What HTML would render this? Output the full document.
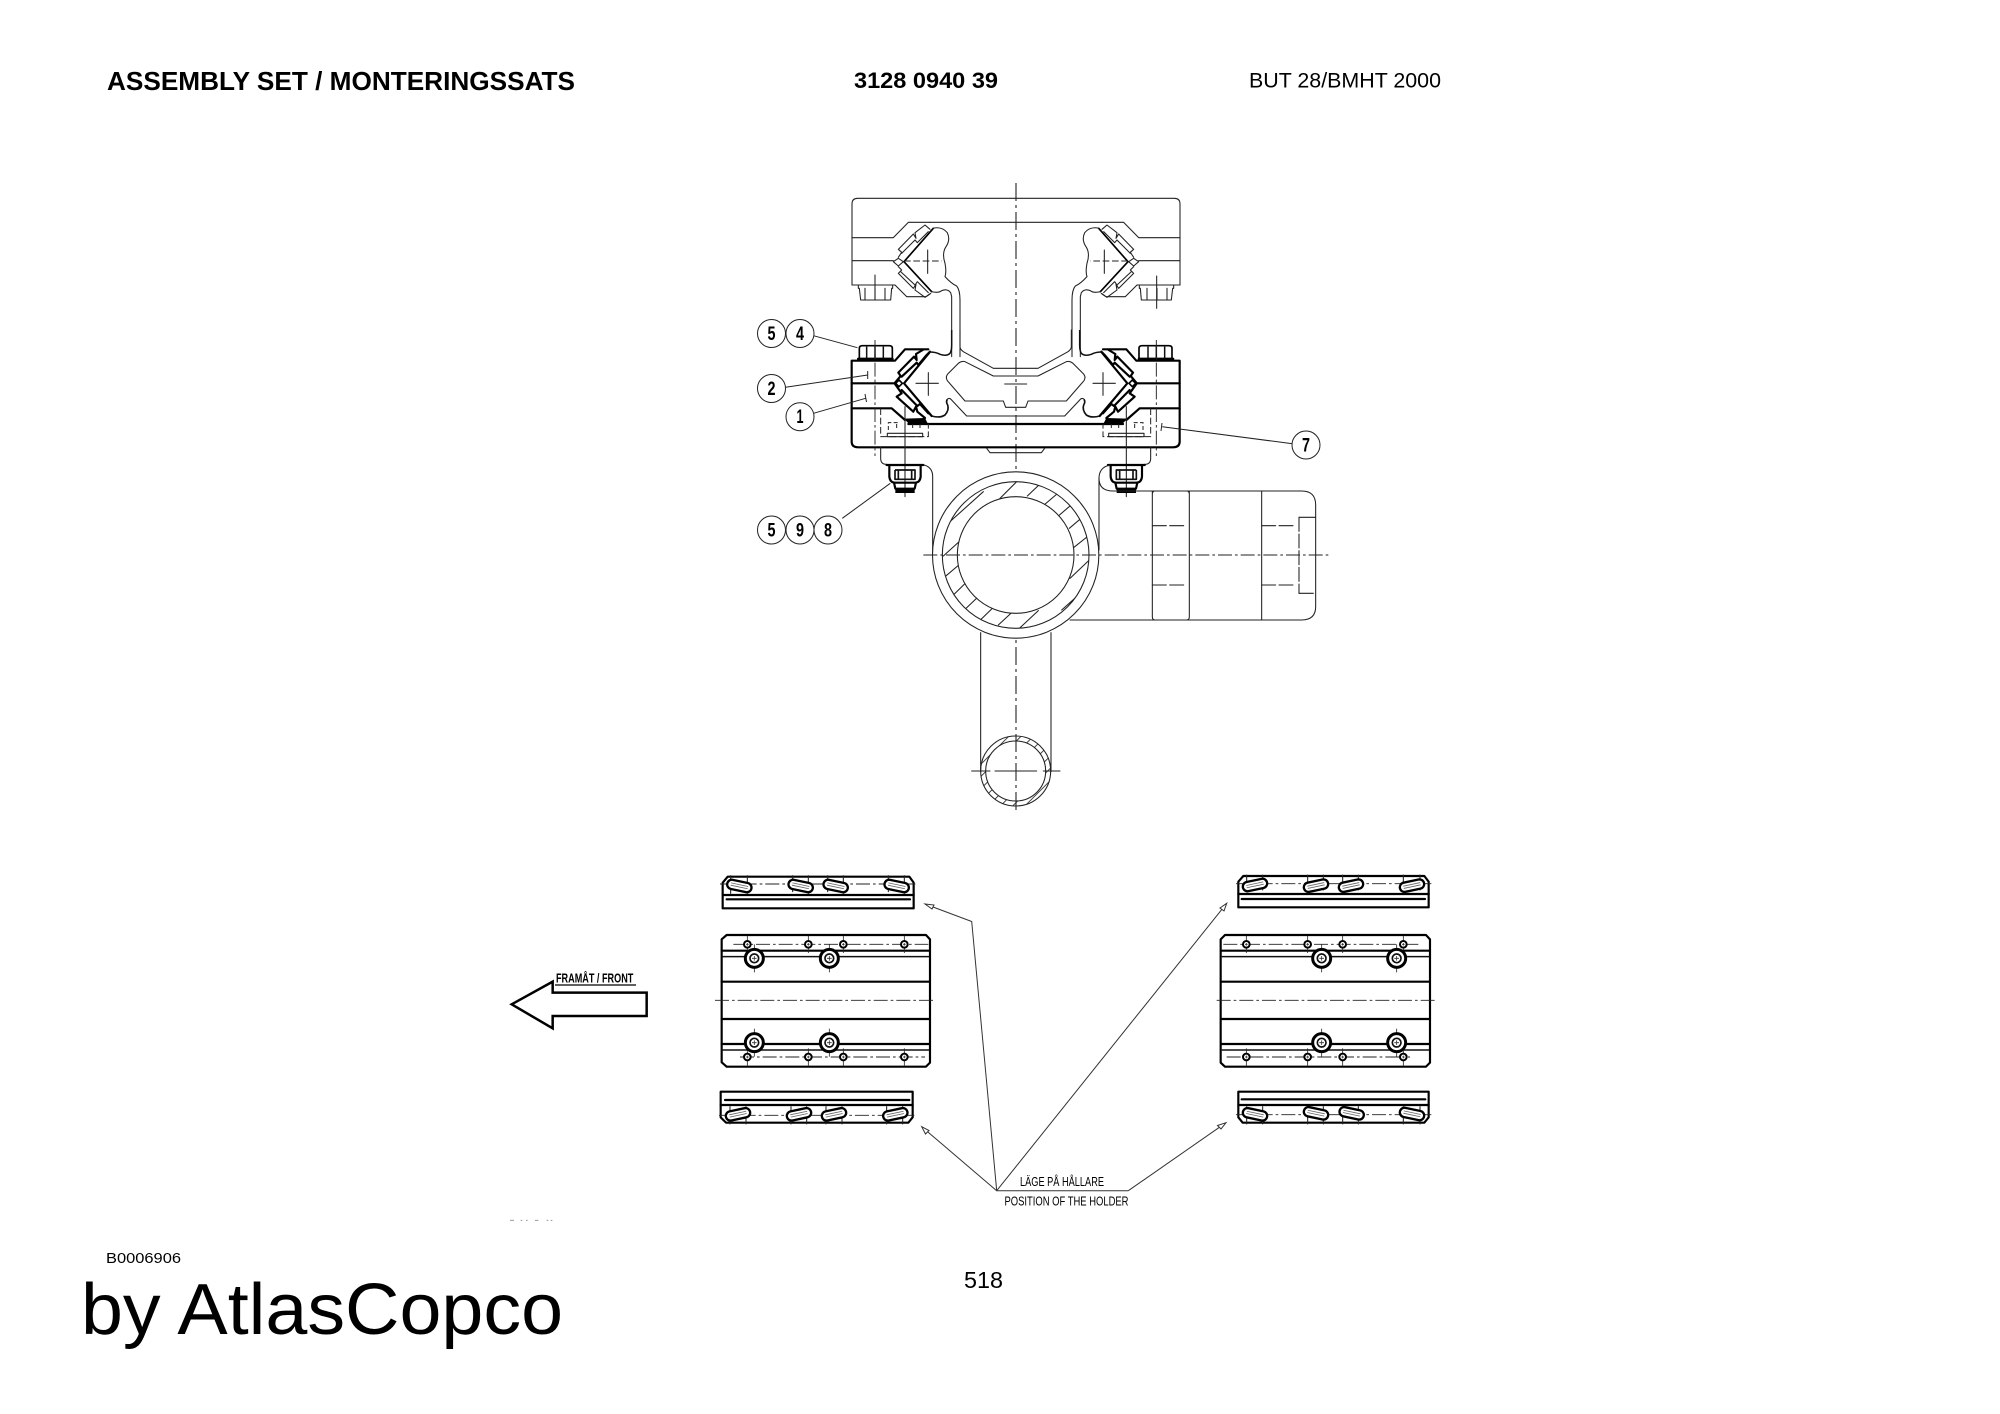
<!DOCTYPE html>
<html><head><meta charset="utf-8"><title>Assembly set</title>
<style>
html,body{margin:0;padding:0;background:#fff}
svg{display:block}
text{font-family:"Liberation Sans",sans-serif;fill:#000}
.t{fill:none;stroke:#222;stroke-width:3.2;stroke-linecap:round;stroke-linejoin:round}
.k{fill:none;stroke:#000;stroke-width:6.5;stroke-linejoin:round;stroke-linecap:round}
.m{fill:none;stroke:#111;stroke-width:4.5;stroke-linejoin:round}
.c{fill:none;stroke:#222;stroke-width:2.8;stroke-dasharray:42 9 8 9}
.d{fill:none;stroke:#222;stroke-width:3;stroke-dasharray:20 8}
</style></head><body>
<svg xmlns="http://www.w3.org/2000/svg" width="2000" height="1414" viewBox="0 0 2000 1414">
<defs>
<pattern id="hs" width="26" height="26" patternUnits="userSpaceOnUse" patternTransform="rotate(-45)"><line x1="0" y1="0" x2="26" y2="0" stroke="#222" stroke-width="5"/></pattern>
<mask id="ring" maskUnits="userSpaceOnUse" x="0" y="0" width="1440" height="1140"><rect width="1440" height="1140" fill="#000"/><circle cx="407" cy="285" r="220" fill="#fff"/><circle cx="407" cy="285" r="175" fill="#000"/></mask>
<g id="uh">
<path class="t" d="M36,143 L160,143 L205,97 L270,97"/>
<path class="t" d="M36,212 L160,212"/>
<path class="t" d="M36,285 L165,285 L200,320 L258,320 L272,310"/>
<path class="k" style="stroke-width:5" d="M280,115 L192,215 L275,305"/>
<path class="t" d="M160,215 L175,205 L190,215 L175,228 Z"/>
<path class="t" d="M175,202 L185,187 L175,178 L220,132 L228,145 L225,128 L255,105 L270,118"/>
<path class="t" d="M185,190 L225,150 L232,158 L265,125"/>
<path class="t" d="M175,230 L185,240 L175,250 L220,295 L228,283 L225,300 L255,322 L270,312"/>
<path class="t" d="M182,245 L225,285 L232,275 L265,308"/>
<path class="t" d="M278,115 Q305,108 322,128 Q332,150 318,170 Q305,190 315,220 Q320,245 315,260 Q335,282 350,288 Q360,300 360,330 L360,500"/>
<path class="t" d="M275,305 Q295,310 305,302 Q322,295 332,308 L335,320 L335,500"/>
<path class="d" d="M192,213 L305,213"/>
<path class="t" d="M263,180 L263,250"/>
<path class="t" d="M55,285 L158,285 L158,295 L155,295 L152,330 L62,330 L58,295 L55,295 Z"/>
<path class="t" d="M75,295 L75,330 M135,295 L135,330 M105,295 L105,330"/>
</g>
<g id="mh">
<path class="k" d="M557,352 L85,352 Q65,352 65,335 L65,92 L195,92 L225,58 L295,58"/>
<path class="k" d="M65,160 L195,160"/>
<path class="k" d="M65,235 L185,235 L225,270"/>
<path class="k" d="M235,282 L557,282"/>
<path class="k" style="stroke-width:8" d="M85,87 L187,87"/>
<path class="k" style="stroke-width:5" d="M88,85 L88,55 Q88,47 97,47 L178,47 Q187,47 187,55 L187,85"/>
<path class="m" d="M110,50 L110,85 M160,50 L160,85 M135,50 L135,85"/>
<path class="k" d="M298,68 L222,160 L305,258"/>
<path class="k" d="M195,158 L212,138 L205,128 L252,80 L260,90 L258,72 L278,60"/>
<path class="k" d="M215,140 L260,98 L265,105 L290,75 L300,65"/>
<path class="k" d="M195,162 L215,190 L200,200 L250,245 L258,230 L262,245 L285,264"/>
<path class="k" d="M215,180 L262,228 L270,222 L295,250"/>
<path class="k" style="stroke-width:5" d="M197,160 L207,150 L217,160 L207,170 Z"/>
<path d="M222,266 L285,264 L295,284 L240,285 Z" fill="#000"/>
<path class="m" d="M298,66 Q318,66 330,73 Q350,80 360,70 Q365,62 365,45 L365,0"/>
<path class="t" d="M390,0 L390,50 Q390,58 400,65 L490,115 L557,115"/>
<path class="t" d="M557,138 L490,138 L405,95 Q395,92 385,100 L355,130 Q345,140 352,152 L405,213 L520,213 L527,232 L557,232"/>
<path class="t" d="M557,258 L410,258 L362,207 Q356,203 352,208"/>
<path class="m" style="stroke-width:5" d="M352,208 Q347,215 353,225 Q358,240 345,255 Q330,265 305,258"/>
<path class="t" d="M258,160 L325,160 M295,128 L295,196 M533,162 L590,162"/>
<path class="d" d="M152,235 L152,320 L295,320 L295,282"/>
<path class="d" style="stroke-dasharray:12 7" d="M175,300 L175,278 L205,278 M270,282 L270,300 M200,282 L200,300 M248,282 L248,300"/>
<path class="t" d="M172,310 L278,310 L278,320 L172,320 Z"/>
<path class="t" d="M225,230 L225,500"/>
<path class="c" d="M135,30 L135,378"/>
<path class="t" d="M152,352 L152,385 Q152,403 170,403"/>
<path class="t" d="M470,355 L480,368 L557,368"/>
<path class="k" style="stroke-width:7" d="M170,405 L280,405"/>
<path class="k" d="M178,408 L178,440 Q180,458 195,458 L255,458 Q270,458 272,440 L272,408"/>
<path class="m" style="stroke-width:5" d="M195,420 L195,448 L255,448 L255,420 L195,420 M205,422 L205,446 M245,422 L245,446"/>
<path class="k" d="M192,458 L196,476 L254,476 L258,458"/>
<rect x="196" y="474" width="58" height="15" fill="#000"/>
</g>
<g id="sl">
<rect x="-37" y="-14" width="74" height="28" rx="14" fill="#fff" stroke="#000" stroke-width="7"/>
<path d="M-26,-4 L26,-4 M-26,3 L26,3" stroke="#666" stroke-width="2.5" fill="none"/>
</g>
<g id="lh">
<path d="M0,-42 L0,42" stroke="#222" stroke-width="2.4"/>
<circle r="27" fill="#fff" stroke="#000" stroke-width="9"/>
<circle r="13" fill="#fff" stroke="#111" stroke-width="5"/>
<path d="M-7,0 L7,0 M0,-7 L0,7" stroke="#333" stroke-width="2.4"/>
</g>
<g id="sh">
<path d="M0,-26 L0,26" stroke="#222" stroke-width="2.4"/>
<circle r="10" fill="#fff" stroke="#000" stroke-width="6"/>
<path d="M-4,0 L4,0 M0,-4 L0,4" stroke="#333" stroke-width="2.4"/>
</g>
</defs>

<!-- headers -->
<text x="107" y="90" font-size="25.6" font-weight="700" textLength="468" lengthAdjust="spacingAndGlyphs">ASSEMBLY SET / MONTERINGSSATS</text>
<text x="854" y="88" font-size="22.5" font-weight="700" textLength="144" lengthAdjust="spacingAndGlyphs">3128 0940 39</text>
<text x="1249" y="87.5" font-size="21.5" textLength="192" lengthAdjust="spacingAndGlyphs">BUT 28/BMHT 2000</text>
<text x="106" y="1263" font-size="14.5" textLength="75" lengthAdjust="spacingAndGlyphs">B0006906</text>
<text x="81" y="1334" font-size="72" textLength="482" lengthAdjust="spacingAndGlyphs">by AtlasCopco</text>
<text x="964" y="1288" font-size="23" textLength="39" lengthAdjust="spacingAndGlyphs">518</text>

<!-- centre line -->
<path class="c" style="stroke-width:1.1;stroke-dasharray:18 4 3 4" d="M1016,183 L1016,813" />

<!-- upper clamp -->
<g transform="translate(840 190) scale(.33333)">
<path class="t" d="M36,143 L36,42 Q36,25 53,25 L1003,25 Q1020,25 1020,42 L1020,285"/>
<path class="t" d="M36,143 L36,285"/>
<path class="t" d="M270,97 L786,97"/>
<use href="#uh"/>
<use href="#uh" transform="translate(1056 0) scale(-1 1)"/>
<path class="t" d="M105,255 L105,330 M950,258 L950,355"/>
</g>

<!-- middle clamp -->
<g transform="translate(830 330) scale(.33333)">
<use href="#mh"/>
<use href="#mh" transform="translate(1114 0) scale(-1 1)"/>
</g>

<!-- tube section -->
<g transform="translate(880 460) scale(.33333)">
<path class="t" d="M132,15 Q158,22 158,50 L158,285"/>
<path class="t" d="M690,15 Q657,22 657,55 Q657,93 700,93 L1265,93 Q1307,93 1307,135 L1307,440 Q1307,480 1265,480 L570,480"/>
<path class="t" d="M657,55 L657,270"/>
<circle cx="407" cy="285" r="249.5" class="t" style="fill:#fff"/>
<circle cx="407" cy="285" r="220" class="t"/>
<circle cx="407" cy="285" r="175" class="t"/>
<g mask="url(#ring)"><path class="t" d="M360,115 L410,65 M442,108 L480,72 M492,135 L545,90 M535,168 L585,125 M568,205 L615,165 M582,262 L632,222 M190,288 L245,238 M195,350 L240,312 M220,405 L258,368 M258,445 L295,410 M303,478 L340,442 M355,495 L395,458 M418,505 L475,452 M570,355 L630,298 M545,450 L590,410 M210,185 L310,95"/></g>
<path class="t" d="M817,93 L817,470 Q817,480 825,480 M817,103 Q817,93 825,93 M928,93 L928,470 Q928,480 920,480 M928,103 Q928,93 920,93 M1145,93 L1145,480"/>
<path class="t" style="stroke-dasharray:42 10" d="M817,197 L915,197 M817,375 L915,375 M1145,197 L1240,197 M1145,375 L1240,375"/>
<path class="t" d="M1307,172 L1257,172 M1300,400 L1257,400"/>
<path class="t" style="stroke-dasharray:42 8" d="M1257,172 L1257,400"/>
<path class="c" d="M130,285 L1350,285"/>
<path class="t" d="M302,518 L302,935 M513,518 L513,935"/>
<circle cx="407" cy="933" r="105" class="t"/>
<path d="M302,933 a105,105 0 1 0 210,0 a105,105 0 1 0 -210,0 Z M317,933 a90,90 0 1 0 180,0 a90,90 0 1 0 -180,0 Z" fill="url(#hs)" fill-rule="evenodd"/>
<circle cx="407" cy="933" r="90" class="t"/>
<path class="t" d="M275,933 L330,933 M345,933 L470,933 M490,933 L540,933"/>
</g>

<!-- balloons -->
<g stroke="#222" stroke-width="1" fill="none">
<path d="M813.5,335.7 L857.4,347.7 M785.6,387.3 L867.7,375 M867.7,371 L867.7,379 M813.5,413.3 L865.6,398.3 M865,394 L866.5,402 M1294.4,444 L1162.3,426.7 M1162,423 L1161,431 M842.3,518.3 L890.3,483.3"/>
</g>
<g fill="#fff" stroke="#222" stroke-width="1">
<circle cx="771.5" cy="333.5" r="14"/><circle cx="800" cy="333.5" r="14"/>
<circle cx="771.5" cy="388.5" r="14"/><circle cx="800" cy="416.7" r="14"/>
<circle cx="1306" cy="445" r="14"/>
<circle cx="771.5" cy="530" r="14"/><circle cx="800" cy="530" r="14"/><circle cx="828" cy="530" r="14"/>
</g>
<g font-size="19" font-weight="700" text-anchor="middle">
<text x="771.5" y="340" textLength="8" lengthAdjust="spacingAndGlyphs">5</text>
<text x="800" y="340" textLength="8" lengthAdjust="spacingAndGlyphs">4</text>
<text x="771.5" y="395" textLength="8" lengthAdjust="spacingAndGlyphs">2</text>
<text x="800" y="423" textLength="7" lengthAdjust="spacingAndGlyphs">1</text>
<text x="1306" y="451.5" textLength="8" lengthAdjust="spacingAndGlyphs">7</text>
<text x="771.5" y="536.5" textLength="8" lengthAdjust="spacingAndGlyphs">5</text>
<text x="800" y="536.5" textLength="8" lengthAdjust="spacingAndGlyphs">9</text>
<text x="828" y="536.5" textLength="8" lengthAdjust="spacingAndGlyphs">8</text>
</g>

<!-- left plates -->
<g transform="translate(500 860) scale(.33333)">
<path class="k" style="stroke-width:7.5;stroke-linejoin:miter" d="M35,433 L158,365 L158,398 L440,398 L440,468 L158,468 L158,505 Z"/>
<path d="M165,375 L408,375" stroke="#000" stroke-width="4"/>
<text x="168" y="368" font-size="38" font-weight="700" textLength="232" lengthAdjust="spacingAndGlyphs">FRAMÅT / FRONT</text>
<path class="k" d="M668,145 L668,68 L683,50 L1228,50 L1241,68 L1241,145 Z"/>
<path class="k" d="M668,105 L1241,105 M680,118 L1230,118"/>
<path class="c" d="M660,72 L1250,72"/>
<path class="t" d="M692,47 L692,100 M742,47 L742,100 M878,47 L878,95 M925,47 L925,100 M983,47 L983,95 M1030,47 L1030,100 M1165,47 L1165,95 M1213,47 L1213,100"/>
<use href="#sl" transform="translate(718 78) rotate(12)"/><use href="#sl" transform="translate(902 78) rotate(12)"/><use href="#sl" transform="translate(1007 78) rotate(12)"/><use href="#sl" transform="translate(1190 78) rotate(12)"/>

<path class="k" d="M680,225 L1278,225 L1290,238 L1290,608 L1278,620 L680,620 L665,607 L665,238 Z"/>
<path class="k" d="M665,272 L1288,272 M665,365 L1288,365 M665,477 L1288,477 M665,552 L1288,552"/>
<path class="m" d="M665,290 L1288,290 M665,570 L1288,570"/>
<path class="c" d="M645,421 L1305,421"/>
<path class="c" d="M700,253 L1285,253 M720,591 L1275,591"/>
<use href="#sh" transform="translate(742 253)"/><use href="#sh" transform="translate(925 253)"/><use href="#sh" transform="translate(1030 253)"/><use href="#sh" transform="translate(1213 253)"/>
<use href="#sh" transform="translate(742 591)"/><use href="#sh" transform="translate(925 591)"/><use href="#sh" transform="translate(1030 591)"/><use href="#sh" transform="translate(1213 591)"/>
<use href="#lh" transform="translate(763 295)"/><use href="#lh" transform="translate(988 295)"/><use href="#lh" transform="translate(763 548)"/><use href="#lh" transform="translate(988 548)"/>

<path class="k" d="M662,695 L1238,695 L1238,772 L1225,788 L678,788 L662,772 Z"/>
<path class="k" d="M675,720 L1228,720 M662,735 L1238,735"/>
<path class="c" d="M657,766 L1245,766"/>
<path class="t" d="M690,740 L690,792 M738,740 L738,792 M873,740 L873,792 M920,740 L920,792 M978,740 L978,792 M1026,740 L1026,792 M1160,740 L1160,792 M1208,740 L1208,792"/>
<use href="#sl" transform="translate(714 763) rotate(-12)"/><use href="#sl" transform="translate(897 763) rotate(-12)"/><use href="#sl" transform="translate(1002 763) rotate(-12)"/><use href="#sl" transform="translate(1186 763) rotate(-12)"/>
<path d="M30,1081 h12 M62,1081 h5 M78,1081 h5 M105,1081 h10 M140,1081 h5 M152,1081 h5" stroke="#999" stroke-width="3"/>
</g>

<!-- right plates -->
<g transform="translate(960 860) scale(.33333)">
<path class="k" d="M835,142 L835,65 L850,48 L1393,48 L1406,65 L1406,142 Z"/>
<path class="k" d="M835,102 L1406,102 M845,117 L1395,117"/>
<path class="c" d="M828,71 L1415,71"/>
<path class="t" d="M860,45 L860,95 M908,45 L908,90 M1043,45 L1043,95 M1090,45 L1090,90 M1148,45 L1148,95 M1195,45 L1195,90 M1330,45 L1330,95 M1380,45 L1380,90"/>
<use href="#sl" transform="translate(885 75) rotate(-12)"/><use href="#sl" transform="translate(1068 77) rotate(-12)"/><use href="#sl" transform="translate(1173 77) rotate(-12)"/><use href="#sl" transform="translate(1356 77) rotate(-12)"/>

<path class="k" d="M795,225 L1398,225 L1410,238 L1410,608 L1398,620 L795,620 L782,608 L782,238 Z"/>
<path class="k" d="M785,272 L1408,272 M785,365 L1408,365 M785,477 L1408,477 M785,552 L1408,552"/>
<path class="m" d="M785,290 L1408,290 M785,570 L1408,570"/>
<path class="c" d="M770,421 L1430,421"/>
<path class="c" d="M790,253 L1375,253 M800,591 L1350,591"/>
<use href="#sh" transform="translate(859 253)"/><use href="#sh" transform="translate(1043 253)"/><use href="#sh" transform="translate(1148 253)"/><use href="#sh" transform="translate(1330 253)"/>
<use href="#sh" transform="translate(859 591)"/><use href="#sh" transform="translate(1043 591)"/><use href="#sh" transform="translate(1148 591)"/><use href="#sh" transform="translate(1330 591)"/>
<use href="#lh" transform="translate(1085 295)"/><use href="#lh" transform="translate(1310 295)"/><use href="#lh" transform="translate(1085 548)"/><use href="#lh" transform="translate(1310 548)"/>

<path class="k" d="M835,695 L1406,695 L1406,772 L1393,788 L848,788 L835,772 Z"/>
<path class="k" d="M845,718 L1396,718 M835,735 L1406,735"/>
<path class="c" d="M828,764 L1415,764"/>
<path class="t" d="M860,740 L860,792 M908,740 L908,792 M1043,740 L1043,792 M1090,740 L1090,792 M1148,740 L1148,792 M1195,740 L1195,792 M1330,740 L1330,792 M1380,740 L1380,792"/>
<use href="#sl" transform="translate(885 763) rotate(12)"/><use href="#sl" transform="translate(1068 760) rotate(12)"/><use href="#sl" transform="translate(1175 760) rotate(12)"/><use href="#sl" transform="translate(1356 762) rotate(12)"/>
</g>

<!-- position leaders -->
<g fill="none" stroke="#333" stroke-width="1">
<path d="M1128.3,1190.7 L996.7,1190.7 L971.7,921.5 L925,904"/>
<path d="M996.7,1190.7 L1226.7,903.3"/>
<path d="M996.7,1190.7 L921.7,1126.7"/>
<path d="M1128.3,1190.7 L1226,1122.7"/>
<path d="M925,904 L934,905 L932,909 Z M921.7,1126.7 L929,1130.5 L925.5,1134 Z M1226.7,903.3 L1224,911 L1220,908 Z M1226,1122.7 L1221,1129 L1217.5,1125.5 Z" fill="#fff"/>
</g>
<text x="1020" y="1186" font-size="13" fill="#222" textLength="84" lengthAdjust="spacingAndGlyphs">LÄGE PÅ HÅLLARE</text>
<text x="1004.5" y="1205.3" font-size="13" fill="#222" textLength="124" lengthAdjust="spacingAndGlyphs">POSITION OF THE HOLDER</text>
</svg>
</body></html>
